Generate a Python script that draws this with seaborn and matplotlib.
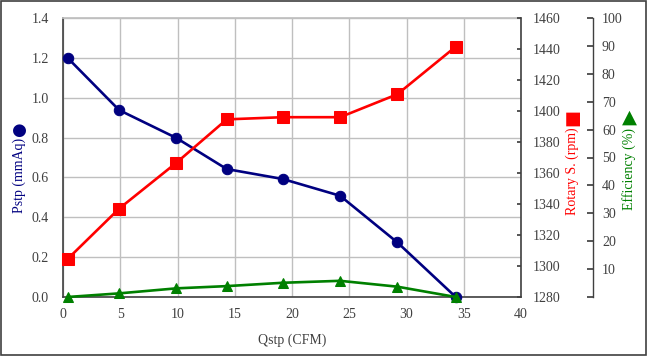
import matplotlib
matplotlib.use("Agg")
import matplotlib.pyplot as plt
import seaborn as sns
import pandas as pd
from matplotlib.patches import Rectangle

qstp = [0.4, 4.9, 9.9, 14.3, 19.2, 24.2, 29.2, 34.3]
pstp = [1.20, 0.938, 0.798, 0.642, 0.592, 0.508, 0.274, 0.0]
rotary = [1304.5, 1337.0, 1366.6, 1394.6, 1396.0, 1396.0, 1410.8, 1441.5]
efficiency = [0.0, 1.3, 3.1, 3.9, 5.1, 5.8, 3.7, 0.0]

x_ticks = [0, 5, 10, 15, 20, 25, 30, 35, 40]
p_ticks = [0.0, 0.2, 0.4, 0.6, 0.8, 1.0, 1.2, 1.4]
r_ticks = [1280, 1300, 1320, 1340, 1360, 1380, 1400, 1420, 1440, 1460]
e_ticks = [0, 10, 20, 30, 40, 50, 60, 70, 80, 90, 100]

df = pd.DataFrame({"q": qstp, "p": pstp, "r": rotary, "e": efficiency})

sns.set_theme(style="white")
plt.rcParams["font.family"] = ["Liberation Serif", "DejaVu Serif"]

NAVY, RED, GREEN = "#000080", "#FF0000", "#008000"
TXT = "#404040"
GRID = "#BFBFBF"
FS = 10

fig = plt.figure(figsize=(6.47, 3.56), dpi=100)
ax = fig.add_axes([63/647, 1-297/356, 458/647, 279/356])
ax2 = ax.twinx()
ax3 = ax.twinx()

sns.lineplot(data=df, x="q", y="p", ax=ax, color=NAVY, marker="o", markersize=7.5,
             markeredgecolor=NAVY, linewidth=1.9, clip_on=False, zorder=5)
sns.lineplot(data=df, x="q", y="r", ax=ax2, color=RED, marker="s", markersize=8,
             markeredgecolor=RED, linewidth=1.9, clip_on=False, zorder=5)
sns.lineplot(data=df, x="q", y="e", ax=ax3, color=GREEN, marker="^", markersize=7.5,
             markeredgecolor=GREEN, linewidth=1.9, clip_on=False, zorder=5)

ax.set_xlim(0, 40)
ax.set_ylim(0, 1.4)
ax.set_xticks(x_ticks)
ax.set_xticklabels([str(t) for t in x_ticks])
ax.set_yticks(p_ticks)
ax.set_yticklabels([f"{t:.1f}" for t in p_ticks])
ax.grid(True, color=GRID, linewidth=1.0)
ax.set_axisbelow(True)
ax.tick_params(axis="x", length=0, labelsize=FS, labelcolor=TXT, pad=8)
ax.tick_params(axis="y", length=0, labelsize=FS, labelcolor=TXT, pad=10)
ax.set_xlabel("Qstp (CFM)", fontsize=FS, color=TXT, labelpad=9)
ax.set_ylabel("")
for s in ["left", "bottom"]:
    ax.spines[s].set_color("#404040")
    ax.spines[s].set_linewidth(1.2)
ax.spines["top"].set_color(GRID)
ax.spines["right"].set_visible(False)

ax2.set_ylim(1280, 1460)
ax2.set_yticks(r_ticks)
ax2.set_yticklabels([str(t) for t in r_ticks])
ax2.tick_params(axis="y", direction="in", length=3, color="#404040", labelsize=FS,
                labelcolor=TXT, pad=8.5, right=True, left=False)
ax2.set_ylabel("")
for s in ["left", "top", "bottom"]:
    ax2.spines[s].set_visible(False)
ax2.spines["right"].set_color("#404040")
ax2.spines["right"].set_linewidth(1.2)

ax3.set_ylim(0, 100)
ax3.set_yticks(e_ticks)
ax3.set_yticklabels([""] + [str(t) for t in e_ticks[1:]])
ax3.spines["right"].set_position(("axes", 1.157))
for s in ["left", "top", "bottom"]:
    ax3.spines[s].set_visible(False)
ax3.spines["right"].set_color("#404040")
ax3.spines["right"].set_linewidth(1.0)
ax3.tick_params(axis="y", direction="in", length=4, color="#404040", labelsize=FS,
                labelcolor=TXT, pad=6.5, right=True, left=False)
ax3.set_ylabel("")

# axis titles with symbol markers
fig.text(19/647, 1-175/356, "Pstp (mmAq)", rotation=90, color=NAVY, fontsize=FS,
         ha="center", va="center")
fig.text(19/647, 1-130/356, "●", rotation=90, color=NAVY, fontsize=12,
         ha="center", va="center", family="DejaVu Sans")
fig.text(572/647, 1-171/356, "Rotary S. (rpm)", rotation=90, color=RED, fontsize=FS,
         ha="center", va="center")
fig.text(572/647, 1-118/356, "■", rotation=90, color=RED, fontsize=13,
         ha="center", va="center", family="DejaVu Sans")
fig.text(629/647, 1-169/356, "Efficiency (%)", rotation=90, color=GREEN, fontsize=FS,
         ha="center", va="center")
fig.text(629.5/647, 1-117.5/356, "▲", rotation=0, color=GREEN, fontsize=14,
         ha="center", va="center", family="DejaVu Sans")

fig.patches.append(Rectangle((0.001, 0.003), 0.997, 0.995, transform=fig.transFigure,
                             fill=False, edgecolor="#404040", linewidth=1.2))

fig.savefig("out.png", dpi=100)
